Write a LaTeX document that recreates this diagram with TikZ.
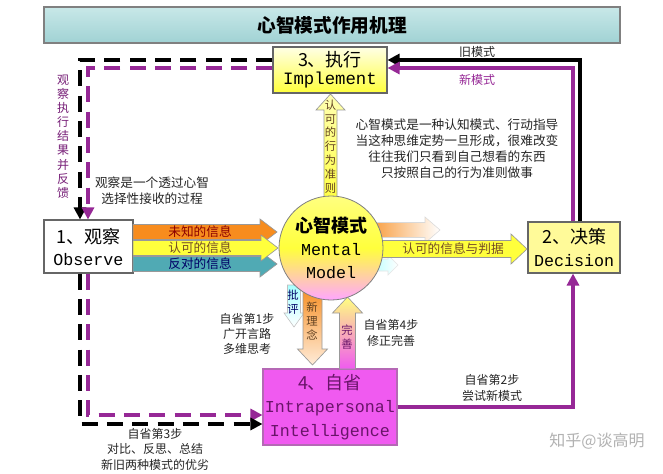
\documentclass[tikz,border=0pt]{standalone}
\usepackage{fontspec}
\setmainfont{Noto Sans CJK SC}
\newfontfamily\mono{Liberation Mono}
\usetikzlibrary{arrows.meta}
\definecolor{titletop}{RGB}{200,232,232}
\definecolor{titlebot}{RGB}{160,210,212}
\definecolor{purp}{RGB}{150,40,150}
\definecolor{ylw}{RGB}{255,255,60}
\definecolor{org}{RGB}{247,140,30}
\definecolor{teal1}{RGB}{80,170,180}
\definecolor{mag}{RGB}{240,90,240}
\definecolor{dpurp}{RGB}{105,20,105}
% x1,x2,yc,halfband,halfhead,headlen
\newcommand{\fatR}[6]{(#1,#3-#4) -- (#2-#6,#3-#4) -- (#2-#6,#3-#5) -- (#2,#3) -- (#2-#6,#3+#5) -- (#2-#6,#3+#4) -- (#1,#3+#4) -- cycle}
% xc,ybase,ytip,halfband,halfhead,headlen
\newcommand{\fatU}[6]{(#1-#4,#2) -- (#1-#4,#3+#6) -- (#1-#5,#3+#6) -- (#1,#3) -- (#1+#5,#3+#6) -- (#1+#4,#3+#6) -- (#1+#4,#2) -- cycle}
\newcommand{\fatD}[6]{(#1-#4,#2) -- (#1-#4,#3-#6) -- (#1-#5,#3-#6) -- (#1,#3) -- (#1+#5,#3-#6) -- (#1+#4,#3-#6) -- (#1+#4,#2) -- cycle}
\begin{document}
\begin{tikzpicture}[x=0.75pt,y=-0.75pt,
  box/.style={draw=black!60, line width=0.8pt, inner sep=0pt, align=center},
  blkdash/.style={draw=black, line width=2.6pt, dash pattern=on 12pt off 7pt, -{Triangle[length=9pt,width=9pt]}},
  purdash/.style={draw=purp, line width=2.6pt, dash pattern=on 12pt off 7pt, -{Triangle[length=9pt,width=9pt]}},
  blksolid/.style={draw=black, line width=2.4pt, -{Triangle[length=9pt,width=9pt]}},
  pursolid/.style={draw=purp, line width=2.4pt, -{Triangle[length=9pt,width=9pt]}},
  lbl/.style={font=\fontsize{9.5}{12}\selectfont, align=center, text=black!85, inner sep=0pt},
  vlbl/.style={font=\fontsize{8.5}{10.4}\selectfont, align=center, inner sep=0pt},
  fat/.style={draw=black!40, line width=0.5pt}
]
\useasboundingbox (0,0) rectangle (663,474);
\fill[white] (0,0) rectangle (663,474);

% title
\node[draw=black!50, line width=0.8pt, top color=titletop, bottom color=titlebot,
  minimum width=432pt, minimum height=27pt, font=\fontsize{14}{16}\selectfont\bfseries] (title) at (332,25) {心智模式作用机理};

% boxes
\node[box, top color=yellow!10, bottom color=ylw, minimum width=85.5pt, minimum height=34.5pt,
  font=\fontsize{13.5}{13.5}\selectfont] (impl) at (330,70) {3、执行\\{\mono\fontsize{13}{13.5}\selectfont Implement}};
\node[box, fill=white, minimum width=66.75pt, minimum height=39.75pt,
  font=\fontsize{13.5}{16.5}\selectfont] (obs) at (88.5,246.5) {1、观察\\{\mono\fontsize{12.5}{16.5}\selectfont Observe}};
\node[box, fill=yellow!40, minimum width=69pt, minimum height=38.25pt,
  font=\fontsize{13.5}{17}\selectfont] (dec) at (574,247.5) {2、决策\\{\mono\fontsize{12.5}{17}\selectfont Decision}};
\node[box, draw=purp!70, fill=mag, text=dpurp, minimum width=100.5pt, minimum height=57pt,
  font=\fontsize{13.5}{17.6}\selectfont] (refl) at (330,407) {4、自省\\{\mono\fontsize{12.5}{17.6}\selectfont Intrapersonal}\\{\mono\fontsize{12.5}{17.6}\selectfont Intelligence}};

% fat arrows
\draw[fat, top color=yellow!30, bottom color=ylw] \fatU{330.5}{205}{94}{6.5}{14.5}{16};
\draw[fat, fill=org] \fatR{133}{277}{232}{7.5}{13}{17};
\draw[fat, fill=teal1] \fatR{133}{277}{264}{7.5}{13}{17};
\draw[fat, fill=ylw] \fatR{133}{278}{248}{7.5}{13}{17};
\draw[draw=black!15, left color=org, right color=white] \fatR{360}{440}{230}{7.5}{13}{15};
\draw[draw=black!10, left color=cyan!40, right color=white] \fatR{360}{398}{265}{6}{10}{10};
\draw[fat, fill=ylw] \fatR{370}{527}{249}{8.5}{15}{16};
\draw[draw=black!25, top color=cyan!35, bottom color=white] \fatD{294}{285}{327}{6.5}{10}{14};
\draw[fat, top color=org, bottom color=orange!15!white] \fatD{312.5}{285}{365}{9.5}{15}{16};
\draw[fat, top color=yellow!50, bottom color=mag] \fatU{347.5}{369}{297}{8}{15}{16};

% mental model circle
\node[circle, draw=black!50, line width=0.6pt, minimum size=78pt, inner sep=0pt,
  top color=yellow!50, bottom color=magenta!35, middle color=ylw, align=center,
  font=\fontsize{12.5}{17}\selectfont] (mm) at (331,248)
  {{\bfseries\fontsize{13.5}{17}\selectfont 心智模式}\\{\mono Mental}\\{\mono Model}};

% texts on arrows
\node[lbl, text=red!55!black] (t1) at (200,232) {未知的信息};
\node[lbl, text=brown!60!black] (t2) at (200,248) {认可的信息};
\node[lbl, text=blue!40!black] (t3) at (200,264) {反对的信息};
\node[lbl, text=brown!60!black] (t4) at (453,249) {认可的信息与判据};
\node[vlbl, text=brown!50!black] (v1) at (330.5,146.5) {认\\可\\的\\行\\为\\准\\则};
\node[vlbl, text=blue!40!black] (v2) at (293,302) {批\\评};
\node[vlbl, text=brown!50!black] (v3) at (312,321) {新\\理\\念};
\node[vlbl, text=dpurp] (v4) at (347,337) {完\\善};

% lane coordinates
\coordinate (yBT) at (0,60);
\coordinate (yPT) at (0,68);
\coordinate (xBL) at (80,0);
\coordinate (xPL) at (88,0);
\coordinate (yBB) at (0,424);
\coordinate (yPB) at (0,415);
\coordinate (xBR) at (580,0);
\coordinate (xPR) at (573,0);
\coordinate (yPS) at (0,407);

% connectors
\draw[blkdash] (impl.west |- yBT) -| (xBL |- obs.north);
\draw[purdash] (impl.west |- yPT) -| (xPL |- obs.north);
\draw[purdash] (xPL |- obs.south) |- (refl.west |- yPB);
\draw[blkdash] (xBL |- obs.south) |- (refl.west |- yBB);
\draw[blksolid] (xBR |- dec.north) |- (impl.east |- yBT);
\draw[pursolid] (xPR |- dec.north) |- (impl.east |- yPT);
\draw[pursolid] (refl.east |- yPS) -| (xPR |- dec.south);

% labels
\node[lbl, font=\fontsize{9}{12}\selectfont] (old) at (477,52) {旧模式};
\node[lbl, font=\fontsize{9}{12}\selectfont, text=purp] (new) at (477,80) {新模式};
\node[lbl, font=\fontsize{9}{10.6}\selectfont, text=purp!80!black] (fb) at (63,136.5) {观\\察\\执\\行\\结\\果\\并\\反\\馈};
\node[lbl] (obsnote) at (152,191) {观察是一个透过心智\\选择性接收的过程};
\node[lbl] (note) at (457,149) {心智模式是一种认知模式、行动指导\\当这种思维定势一旦形成，很难改变\\往往我们只看到自己想看的东西\\只按照自己的行为准则做事};
\node[lbl, font=\fontsize{9}{11.3}\selectfont] (s1) at (247,334) {自省第1步\\广开言路\\多维思考};
\node[lbl, font=\fontsize{9}{12.5}\selectfont] (s4) at (391,333) {自省第4步\\修正完善};
\node[lbl, font=\fontsize{9}{12.5}\selectfont] (s2) at (492,388) {自省第2步\\尝试新模式};
\node[lbl, font=\fontsize{9}{11.6}\selectfont] (s3) at (155,449) {自省第3步\\对比、反思、总结\\新旧两种模式的优劣};
\node[lbl, font=\fontsize{12}{14}\selectfont, text=black!30] (wm) at (597,441) {知乎@谈高明};
\end{tikzpicture}
\end{document}
